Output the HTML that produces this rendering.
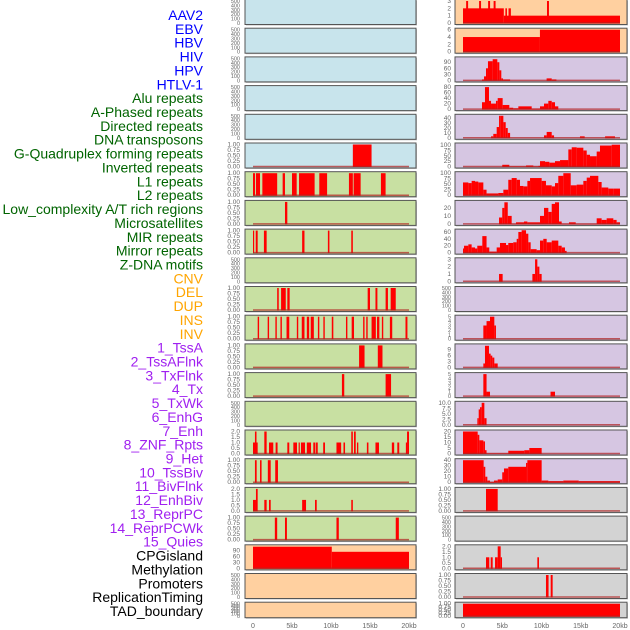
<!DOCTYPE html>
<html><head><meta charset="utf-8"><style>
html,body{margin:0;padding:0;background:#fff;}
svg{display:block;font-family:"Liberation Sans",sans-serif;}
</style></head><body>
<svg id="chart" width="630" height="630" viewBox="0 0 630 630"></svg>
<script>
// ---------- labels ----------
const labelTexts = ["AAV2","EBV","HBV","HIV","HPV","HTLV-1","Alu repeats","A-Phased repeats","Directed repeats","DNA transposons","G-Quadruplex forming repeats","Inverted repeats","L1 repeats","L2 repeats","Low_complexity A/T rich regions","Microsatellites","MIR repeats","Mirror repeats","Z-DNA motifs","CNV","DEL","DUP","INS","INV","1_TssA","2_TssAFlnk","3_TxFlnk","4_Tx","5_TxWk","6_EnhG","7_Enh","8_ZNF_Rpts","9_Het","10_TssBiv","11_BivFlnk","12_EnhBiv","13_ReprPC","14_ReprPCWk","15_Quies","CPGisland","Methylation","Promoters","ReplicationTiming","TAD_boundary"];
const labelGroups = [6,13,5,15,5];
const groupColors = ["#0000ff","#006400","#ffa500","#a020f0","#000000"];
const xTickVals = [0,5000,10000,15000,20000];
const xTickLabels = ["0","5kb","10kb","15kb","20kb"];

// ---------- left column data (start bp, end bp, value) ----------
const L0=[],L1=[],L2=[],L3=[],L4=[];
const L5=[[12800,15200,1]];
const L6=[[0,260,1],[380,900,1],[1200,3100,1],[3800,4100,1],[5000,5600,1],[5900,7900,1],[8500,9500,1],[12300,12800,1],[12900,13800,1],[16400,17000,1]];
const L7=[[4100,4400,1]];
const L8=[[0,150,1],[350,600,1],[1400,1750,1],[6300,6600,1],[9600,9800,1],[12600,12800,1]];
const L9=[];
const L10=[[3100,3300,1],[3600,4200,1],[4400,4700,1],[14700,15000,1],[15700,15950,1],[17000,17300,1],[17650,18300,1]];
const L11=[[600,780,1],[1880,2060,1],[2870,3050,1],[3520,3700,1],[4300,4650,1],[5620,5800,1],[6250,6600,1],[6900,7200,1],[7400,7800,1],[8320,8500,1],[9020,9200,1],[10100,10300,1],[11920,12100,1],[12650,12950,1],[14120,14300,1],[14520,14700,1],[15200,15750,1],[15900,16200,1],[16520,16700,1],[17550,17850,1],[19550,19800,1]];
const L12=[[13600,14300,1],[16000,16600,1]];
const L13=[[11400,11700,1],[17000,17700,1]];
const L14=[];
const L15=[[0,600,1],[250,450,2],[1450,1750,2],[2050,2600,1],[2900,3150,1],[4400,4650,1],[5170,5640,1],[5850,6000,1],[6150,6670,1],[6900,7440,1],[7730,8000,1],[8080,8300,1],[9000,9230,1],[10700,11300,1],[11600,11800,1],[12600,12800,2],[12950,13170,2],[13330,13500,1],[14600,14800,1],[15700,16150,1],[17800,18100,1],[18500,18750,1],[19600,19750,1],[19750,20000,2]];
const L16=[[250,470,1],[900,1100,1],[1900,2270,1],[2850,3200,1]];
const L17=[[0,380,1],[380,600,2],[1450,1750,1],[2050,2270,1],[6300,6800,1],[7950,8170,1],[12600,12800,1]];
const L18=[[2800,3100,1],[4100,4350,1],[10700,11000,1],[18300,18700,1]];
const L19=[[0,10100,110],[10100,20000,84]];
const L20=[],L21=[];

// ---------- right column data ----------
const R0=[[0,5200,2],[5200,20000,1],[400,650,3],[2050,2300,3],[3200,3450,3],[3900,4150,3],[10700,10950,3],[5400,5600,2],[5800,6100,2]];
const R1=[[0,9800,4],[9800,20000,6]];
const R2edges=[2420,2680,2930,3180,3780,4370,4630,4880,5100,6000];
const R2vals=[5,20,60,95,105,90,50,10,5];
const R2b=[[10650,11300,10],[11300,11900,5]];
const R3edges=[2420,2800,3310,3570,4200,4420,5050,5350,5900,6400,7050,8750,9810,10320,10870,11300,11720,12140];
const R3vals=[25,80,30,20,30,40,15,15,5,3,10,2,10,20,30,25,10];
const R4edges=[3570,3860,4290,4590,4800,5140,5440,5700,6000];
const R4vals=[3,8,22,45,45,32,20,10];
const R4b=[[10320,10660,5],[10660,11300,12],[11300,11600,5],[14900,15500,3],[18100,19360,3]];
const R5edges=[5000,5900,8030,8960,9600,9810,10450,11000,11720,12360,13420,13850,14480,15330,15760,16180,17030,17450,18940,20000];
const R5vals=[8,0,5,0,3,25,22,18,25,30,80,90,88,75,55,48,70,98,102];
const R6edges=[0,680,1100,1530,1950,2590,3000,4500,5140,5770,6200,6840,7260,7690,8200,8540,10020,10570,11300,11720,12140,12780,13720,14480,15330,15760,16180,17240,17660,18510,19150,20000];
const R6vals=[58,55,65,62,58,25,8,10,25,70,78,70,42,40,65,78,65,45,40,55,88,100,45,48,65,80,88,60,35,30,30];
const R7edges=[4590,5000,5270,5700,6200,6750,7770,8200,9810,10320,10870,11300,11720,12230,12570,13500,14360,17030,17660,18300,19150,19570,20000];
const R7vals=[8,20,27,10,0,2,3,2,10,20,15,25,27,3,0,2,0,7,5,7,5,2];
const R8edges=[0,130,680,1100,1530,1820,2460,3000,3350,4290,4710,5480,5770,6400,6840,7050,7470,8030,8320,8620,9380,9810,10230,10660,11300,12140,12570,12990,13200];
const R8vals=[12,20,24,15,12,20,48,15,3,15,28,22,28,30,40,60,65,55,30,10,7,35,40,30,35,20,15,5];
const R9=[[4590,5050,1],[8840,9180,1],[9180,9470,3],[9470,9730,2],[9730,10020,1]];
const R10=[];
const R11edges=[2590,3000,3440,3990,4200];
const R11vals=[3,4,5,3];
const R12edges=[2590,2800,3310,3520,3730,3990,4420];
const R12vals=[2,11,7,6,5,2];
const R13=[[2590,3000,5],[3000,3440,1],[11150,11720,1]];
const R14edges=[1830,2000,2170,2380,2720,3000];
const R14vals=[3,7,8,10,3];
const R15edges=[0,1870,2080,2590,2800,3000,5770,7810,8450,10020];
const R15vals=[20,17,12,11,3,0,2.5,3,5];
const R16edges=[0,2630,2840,3100,3440,3950,4420,5000,5220,5770,8030,8200,10020,10870,12780,14740,20000];
const R16vals=[40,28,10,3,0.5,3,5,18,25,28,35,40,3,2,3,2];
const R17=[[2930,4420,1]];
const R18=[];
const R19=[[2930,3350,1],[3530,3780,1],[4080,4420,1],[4420,4800,2],[4800,4970,1],[9470,9680,1]];
const R20=[[10570,10900,1],[11170,11420,1]];
const R21=[[0,20000,1]];

// ---------- axis tick label sets ----------
const T500=["0","100","200","300","400","500"];
const T1=["0.00","0.25","0.50","0.75","1.00"];
const T2=["0.0","0.5","1.0","1.5","2.0"];
const T3=["0","1","2","3"];
const T5=["0","1","2","3","4","5"];

function steps(edges, vals){const out=[];for(let i=0;i<vals.length;i++)out.push([edges[i],edges[i+1],vals[i]]);return out;}

const leftRows=[
 {b:L0,max:500,t:T500,tv:[0,100,200,300,400,500],bg:"#c8e4ec"},
 {b:L1,max:500,t:T500,tv:[0,100,200,300,400,500],bg:"#c8e4ec"},
 {b:L2,max:500,t:T500,tv:[0,100,200,300,400,500],bg:"#c8e4ec"},
 {b:L3,max:500,t:T500,tv:[0,100,200,300,400,500],bg:"#c8e4ec"},
 {b:L4,max:500,t:T500,tv:[0,100,200,300,400,500],bg:"#c8e4ec"},
 {b:L5,max:1,t:T1,tv:[0,.25,.5,.75,1],bg:"#c8e4ec"},
 {b:L6,max:1,t:T1,tv:[0,.25,.5,.75,1],bg:"#c8e0a2"},
 {b:L7,max:1,t:T1,tv:[0,.25,.5,.75,1],bg:"#c8e0a2"},
 {b:L8,max:1,t:T1,tv:[0,.25,.5,.75,1],bg:"#c8e0a2"},
 {b:L9,max:500,t:T500,tv:[0,100,200,300,400,500],bg:"#c8e0a2"},
 {b:L10,max:1,t:T1,tv:[0,.25,.5,.75,1],bg:"#c8e0a2"},
 {b:L11,max:1,t:T1,tv:[0,.25,.5,.75,1],bg:"#c8e0a2"},
 {b:L12,max:1,t:T1,tv:[0,.25,.5,.75,1],bg:"#c8e0a2"},
 {b:L13,max:1,t:T1,tv:[0,.25,.5,.75,1],bg:"#c8e0a2"},
 {b:L14,max:500,t:T500,tv:[0,100,200,300,400,500],bg:"#c8e0a2"},
 {b:L15,max:2,t:T2,tv:[0,.5,1,1.5,2],bg:"#c8e0a2"},
 {b:L16,max:1,t:T1,tv:[0,.25,.5,.75,1],bg:"#c8e0a2"},
 {b:L17,max:2,t:T2,tv:[0,.5,1,1.5,2],bg:"#c8e0a2"},
 {b:L18,max:1,t:T1,tv:[0,.25,.5,.75,1],bg:"#c8e0a2"},
 {b:L19,max:112,t:["0","30","60","90"],tv:[0,30,60,90],bg:"#ffd0a0"},
 {b:L20,max:500,t:T500,tv:[0,100,200,300,400,500],bg:"#ffd0a0"},
 {b:L21,max:500,t:T500,tv:[0,100,200,300,400,500],bg:"#ffd0a0"}
];
const P="#d6c6e2", G="#d3d3d3", O="#ffd0a0";
const rightRows=[
 {b:R0,max:3,t:T3,tv:[0,1,2,3],bg:O},
 {b:R1,max:6,t:["0","2","4","6"],tv:[0,2,4,6],bg:O},
 {b:steps(R2edges,R2vals).concat(R2b),max:109,t:["0","30","60","90"],tv:[0,30,60,90],bg:P},
 {b:steps(R3edges,R3vals),max:80,t:["0","20","40","60","80"],tv:[0,20,40,60,80],bg:P},
 {b:steps(R4edges,R4vals).concat(R4b),max:45,t:["0","10","20","30","40"],tv:[0,10,20,30,40],bg:P},
 {b:steps(R5edges,R5vals),max:103,t:["0","25","50","75","100"],tv:[0,25,50,75,100],bg:P},
 {b:steps(R6edges,R6vals),max:100,t:["0","25","50","75","100"],tv:[0,25,50,75,100],bg:P},
 {b:steps(R7edges,R7vals),max:27.5,t:["0","10","20"],tv:[0,10,20],bg:P},
 {b:steps(R8edges,R8vals),max:64,t:["0","20","40","60"],tv:[0,20,40,60],bg:P},
 {b:R9,max:3,t:T3,tv:[0,1,2,3],bg:P},
 {b:R10,max:500,t:T500,tv:[0,100,200,300,400,500],bg:P},
 {b:steps(R11edges,R11vals),max:5,t:T5,tv:[0,1,2,3,4,5],bg:P},
 {b:steps(R12edges,R12vals),max:11.2,t:["0","3","6","9"],tv:[0,3,6,9],bg:P},
 {b:R13,max:5,t:T5,tv:[0,1,2,3,4,5],bg:P},
 {b:steps(R14edges,R14vals),max:10,t:["0.0","2.5","5.0","7.5","10.0"],tv:[0,2.5,5,7.5,10],bg:P},
 {b:steps(R15edges,R15vals),max:20,t:["0","5","10","15","20"],tv:[0,5,10,15,20],bg:P},
 {b:steps(R16edges,R16vals),max:40,t:["0","10","20","30","40"],tv:[0,10,20,30,40],bg:P},
 {b:R17,max:1,t:T1,tv:[0,.25,.5,.75,1],bg:G},
 {b:R18,max:500,t:T500,tv:[0,100,200,300,400,500],bg:G},
 {b:R19,max:2,t:T2,tv:[0,.5,1,1.5,2],bg:G},
 {b:R20,max:1,t:T1,tv:[0,.25,.5,.75,1],bg:G},
 {b:R21,max:1,t:T1,tv:[0,.25,.5,.75,1],bg:G}
];

const NS="http://www.w3.org/2000/svg";
const svg=document.getElementById("chart");
function mk(tag,attrs,parent){const e=document.createElementNS(NS,tag);for(const k in attrs)e.setAttribute(k,attrs[k]);(parent||svg).appendChild(e);return e;}

// labels
let li=0;
labelGroups.forEach((n,g)=>{for(let j=0;j<n;j++){
  const t=mk("text",{x:203,y:15+li*13.86+5,"text-anchor":"end","font-size":"14",fill:groupColors[g]});
  
  
  t.textContent=labelTexts[li];li++;}});

function rowGeom(k){const top=k*28.7-0.5;const h=(k===21)?15.5:25;return {top,h};}

function drawColumn(rows,px0,px1,x0,x20,tickX,colName){
  const xs=v=>x0+(x20-x0)*v/20000;
  rows.forEach((r,k)=>{
    const {top,h}=rowGeom(k);
    const g=mk("g",{});
    
    
    mk("rect",{x:px0+1,y:top+1,width:px1-px0,height:h,fill:"#999",opacity:0.6},g);
    const bg=mk("rect",{x:px0,y:top,width:px1-px0,height:h,fill:r.bg,stroke:"#555","stroke-width":1},g);
    
    
    const y0=top+h-1.5, yTop=top+1.5;
    const ys=v=>y0-(y0-yTop)*v/r.max;
    r.b.forEach(b=>{
      const x=xs(b[0]),w=Math.max(xs(b[1])-x,0.8),y=ys(b[2]);
      const rc=mk("rect",{x:x,y:y,width:w,height:y0-y+0.5,fill:"#ff0000"},g);
      
      
    });
    if(r.b.length){
      const ln=mk("line",{x1:xs(0),x2:xs(20000),y1:y0,y2:y0,stroke:"#b22222","stroke-width":1.5,opacity:0.7},g);
      
      
    }
    r.tv.forEach((v,i)=>{
      const t=mk("text",{x:tickX,y:ys(v)+2,"text-anchor":"end","font-size":(r.tv.length>5?"5.5":"6.5"),fill:"#666"},g);
      
      
      t.textContent=r.t[i];
    });
  });
  xTickVals.forEach((v,i)=>{
    const t=mk("text",{x:xs(v),y:628,"text-anchor":"middle","font-size":"7",fill:"#666"});
    
    
    t.textContent=xTickLabels[i];
  });
}
drawColumn(leftRows,245,416,253,409,240,'left');
drawColumn(rightRows,455,627,463,620,451,'right');
</script>
</body></html>
